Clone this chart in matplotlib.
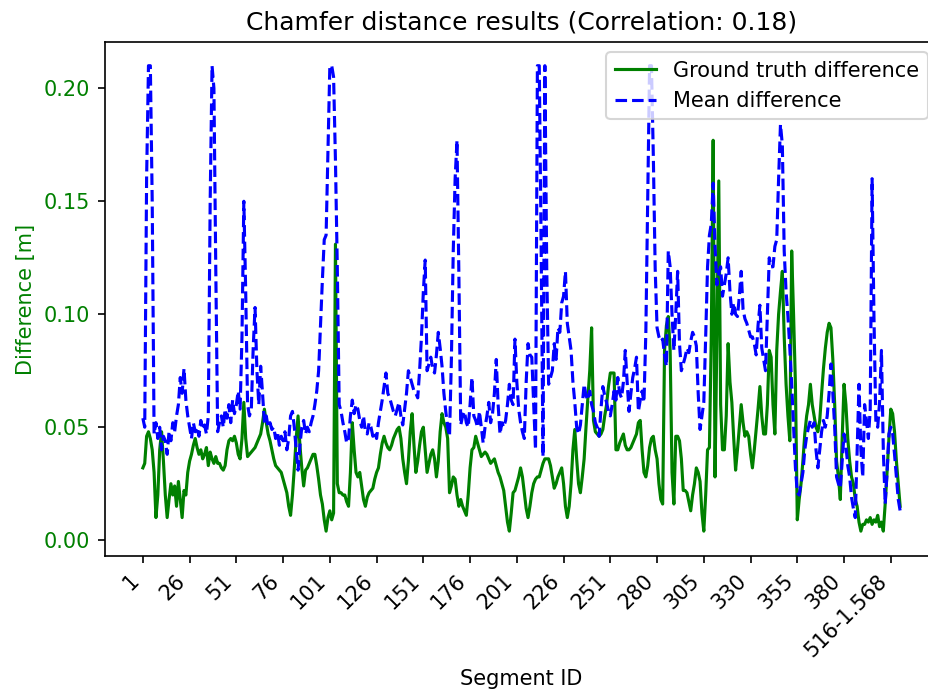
import matplotlib
matplotlib.use("Agg")
import matplotlib.pyplot as plt
import numpy as np

# Ground-truth chamfer difference per segment [m]
gt_diff = [
    0.032, 0.034, 0.046, 0.048, 0.045, 0.040, 0.030, 0.010, 0.020, 0.040,
    0.048, 0.035, 0.020, 0.010, 0.018, 0.025, 0.020, 0.024, 0.015, 0.026,
    0.018, 0.010, 0.022, 0.020, 0.030,
    0.035, 0.038, 0.042, 0.045, 0.041, 0.038, 0.040, 0.036, 0.038, 0.041,
    0.033, 0.039, 0.036, 0.034, 0.037, 0.034, 0.034, 0.032, 0.031, 0.033,
    0.040, 0.044, 0.045, 0.044, 0.046,
    0.043, 0.038, 0.036, 0.045, 0.061, 0.045, 0.037, 0.038, 0.039, 0.040,
    0.041, 0.043, 0.045, 0.047, 0.052, 0.058, 0.052, 0.047, 0.044, 0.040,
    0.036, 0.033, 0.032, 0.031, 0.030,
    0.027, 0.024, 0.021, 0.015, 0.011, 0.020, 0.032, 0.045, 0.055, 0.042,
    0.032, 0.024, 0.031, 0.032, 0.034, 0.036, 0.038, 0.038, 0.033, 0.027,
    0.020, 0.016, 0.009, 0.004, 0.010,
    0.013, 0.009, 0.012, 0.131, 0.025, 0.021, 0.021, 0.020, 0.020, 0.017,
    0.015, 0.030, 0.052, 0.040, 0.030, 0.028, 0.030, 0.024, 0.018, 0.015,
    0.019, 0.021, 0.022, 0.023, 0.027,
    0.030, 0.032, 0.038, 0.043, 0.046, 0.043, 0.041, 0.040, 0.042, 0.045,
    0.047, 0.049, 0.050, 0.045, 0.036, 0.030, 0.025, 0.035, 0.048, 0.056,
    0.042, 0.030, 0.035, 0.042, 0.048,
    0.050, 0.040, 0.030, 0.034, 0.038, 0.040, 0.036, 0.028, 0.035, 0.048,
    0.056, 0.052, 0.050, 0.045, 0.021, 0.024, 0.028, 0.027, 0.020, 0.015,
    0.018, 0.015, 0.013, 0.011, 0.020,
    0.032, 0.040, 0.041, 0.046, 0.043, 0.040, 0.037, 0.038, 0.039, 0.038,
    0.036, 0.034, 0.035, 0.036, 0.033, 0.030, 0.028, 0.025, 0.022, 0.015,
    0.008, 0.004, 0.012, 0.021, 0.022,
    0.025, 0.028, 0.032, 0.028, 0.021, 0.014, 0.010, 0.015, 0.021, 0.025,
    0.027, 0.028, 0.028, 0.031, 0.034, 0.036, 0.036, 0.036, 0.033, 0.028,
    0.023, 0.025, 0.028, 0.030, 0.032,
    0.025, 0.015, 0.010, 0.015, 0.025, 0.040, 0.049, 0.036, 0.025, 0.021,
    0.028, 0.036, 0.050, 0.063, 0.075, 0.094, 0.053, 0.048, 0.047, 0.046,
    0.047, 0.049, 0.055, 0.060, 0.068,
    0.074, 0.074, 0.074, 0.040, 0.040, 0.043, 0.045, 0.047, 0.042, 0.040,
    0.040, 0.041, 0.043, 0.045, 0.047, 0.052, 0.053, 0.040, 0.030, 0.028,
    0.033, 0.041, 0.045, 0.046, 0.040,
    0.036, 0.025, 0.018, 0.016, 0.084, 0.095, 0.099, 0.084, 0.030, 0.016,
    0.046, 0.046, 0.044, 0.036, 0.022, 0.022, 0.021, 0.017, 0.013, 0.020,
    0.025, 0.032, 0.030, 0.026, 0.012,
    0.004, 0.020, 0.040, 0.041, 0.090, 0.177, 0.028, 0.090, 0.159, 0.060,
    0.040, 0.040, 0.055, 0.087, 0.070, 0.061, 0.045, 0.031, 0.040, 0.050,
    0.060, 0.052, 0.046, 0.048, 0.046,
    0.038, 0.032, 0.040, 0.049, 0.058, 0.068, 0.055, 0.047, 0.047, 0.060,
    0.084, 0.081, 0.060, 0.047, 0.084, 0.100, 0.110, 0.119, 0.090, 0.069,
    0.055, 0.044, 0.128, 0.100, 0.069,
    0.009, 0.018, 0.025, 0.035, 0.047, 0.055, 0.060, 0.069, 0.060, 0.055,
    0.050, 0.048, 0.053, 0.065, 0.076, 0.085, 0.092, 0.096, 0.094, 0.080,
    0.060, 0.035, 0.028, 0.018, 0.045,
    0.069, 0.060, 0.045, 0.035, 0.028, 0.025, 0.018, 0.015, 0.008, 0.004,
    0.007, 0.007, 0.009, 0.008, 0.010, 0.007, 0.009, 0.008, 0.011, 0.006,
    0.008, 0.004, 0.016, 0.030, 0.045, 0.058, 0.056, 0.048, 0.035, 0.025,
    0.015,
]

# Mean chamfer difference per segment [m] (capped at 0.21)
mean_diff = [
    0.054, 0.050, 0.160, 0.210, 0.210, 0.150, 0.047, 0.052, 0.045, 0.050,
    0.040, 0.046, 0.044, 0.038, 0.048, 0.044, 0.052, 0.048, 0.055, 0.060,
    0.072, 0.065, 0.076, 0.062, 0.055,
    0.050, 0.045, 0.052, 0.048, 0.050, 0.046, 0.053, 0.049, 0.051, 0.047,
    0.055, 0.150, 0.210, 0.200, 0.120, 0.048, 0.052, 0.055, 0.050, 0.058,
    0.054, 0.060, 0.052, 0.062, 0.056,
    0.060, 0.066, 0.058, 0.090, 0.150, 0.110, 0.060, 0.055, 0.058, 0.085,
    0.103, 0.075, 0.060, 0.077, 0.065, 0.052, 0.055, 0.050, 0.052, 0.049,
    0.050, 0.045, 0.048, 0.042, 0.046,
    0.044, 0.048, 0.040, 0.045, 0.055, 0.057, 0.050, 0.040, 0.031, 0.042,
    0.050, 0.053, 0.047, 0.050, 0.048, 0.052, 0.055, 0.060, 0.066, 0.075,
    0.095, 0.115, 0.133, 0.135, 0.173,
    0.210, 0.210, 0.205, 0.168, 0.120, 0.060, 0.057, 0.052, 0.048, 0.043,
    0.045, 0.055, 0.062, 0.056, 0.060, 0.058, 0.053, 0.050, 0.055, 0.048,
    0.047, 0.052, 0.050, 0.046, 0.048,
    0.045, 0.052, 0.057, 0.062, 0.068, 0.074, 0.065, 0.063, 0.060, 0.057,
    0.055, 0.058, 0.061, 0.055, 0.051, 0.058, 0.065, 0.075, 0.072, 0.069,
    0.066, 0.065, 0.063, 0.075, 0.090,
    0.110, 0.124, 0.075, 0.078, 0.081, 0.076, 0.074, 0.082, 0.092, 0.085,
    0.077, 0.065, 0.057, 0.050, 0.046, 0.080, 0.128, 0.160, 0.177, 0.118,
    0.051, 0.055, 0.057, 0.052, 0.050,
    0.060, 0.072, 0.055, 0.053, 0.050, 0.057, 0.050, 0.043, 0.050, 0.055,
    0.061, 0.052, 0.056, 0.065, 0.080, 0.060, 0.047, 0.052, 0.050, 0.053,
    0.060, 0.069, 0.062, 0.060, 0.089,
    0.070, 0.058, 0.052, 0.048, 0.045, 0.070, 0.087, 0.082, 0.081, 0.060,
    0.040, 0.210, 0.210, 0.130, 0.037, 0.210, 0.120, 0.069, 0.072, 0.075,
    0.087, 0.080, 0.094, 0.092, 0.105,
    0.108, 0.119, 0.096, 0.090, 0.084, 0.070, 0.061, 0.050, 0.047, 0.051,
    0.060, 0.069, 0.064, 0.062, 0.066, 0.060, 0.057, 0.052, 0.050, 0.046,
    0.058, 0.068, 0.064, 0.061, 0.057,
    0.055, 0.060, 0.066, 0.062, 0.072, 0.065, 0.063, 0.070, 0.084, 0.070,
    0.057, 0.065, 0.072, 0.076, 0.081, 0.057, 0.062, 0.066, 0.061, 0.092,
    0.150, 0.210, 0.210, 0.170, 0.120,
    0.094, 0.090, 0.088, 0.089, 0.082, 0.077, 0.128, 0.121, 0.100, 0.084,
    0.100, 0.119, 0.087, 0.075, 0.078, 0.081, 0.085, 0.083, 0.088, 0.092,
    0.090, 0.086, 0.065, 0.049, 0.055,
    0.061, 0.090, 0.121, 0.135, 0.140, 0.158, 0.130, 0.113, 0.118, 0.121,
    0.108, 0.113, 0.118, 0.125, 0.110, 0.100, 0.105, 0.100, 0.099, 0.108,
    0.119, 0.102, 0.098, 0.096, 0.093,
    0.090, 0.090, 0.087, 0.082, 0.095, 0.104, 0.085, 0.080, 0.075, 0.100,
    0.125, 0.121, 0.121, 0.130, 0.133, 0.160, 0.184, 0.175, 0.128, 0.110,
    0.099, 0.085, 0.069, 0.050, 0.032,
    0.021, 0.020, 0.025, 0.030, 0.040, 0.046, 0.050, 0.053, 0.050, 0.052,
    0.040, 0.032, 0.040, 0.048, 0.053, 0.050, 0.055, 0.065, 0.078, 0.065,
    0.050, 0.028, 0.025, 0.023, 0.035,
    0.047, 0.042, 0.033, 0.028, 0.019, 0.014, 0.010, 0.040, 0.069, 0.040,
    0.028, 0.060, 0.053, 0.045, 0.058, 0.160, 0.099, 0.053, 0.050, 0.061,
    0.084, 0.040, 0.016, 0.030, 0.047, 0.050, 0.047, 0.038, 0.028, 0.018,
    0.013,
]

tick_labels = ["1", "26", "51", "76", "101", "126", "151", "176", "201",
               "226", "251", "280", "305", "330", "355", "380", "516-1.568"]
tick_step = 25

x = np.arange(len(gt_diff))

fig = plt.figure(figsize=(928 / 150, 695 / 150), dpi=150)
ax = fig.add_axes([105 / 928, 139 / 695, 833 / 928, 514 / 695])

ax.plot(x, gt_diff, color="green", linestyle="-", label="Ground truth difference")
ax.plot(x, mean_diff, color="blue", linestyle="--", label="Mean difference")

ax.set_xticks(np.arange(len(tick_labels)) * tick_step)
ax.set_xticklabels(tick_labels, rotation=45, ha="right")
ax.set_ylim(-0.007, 0.2205)
ax.tick_params(axis="y", labelcolor="green")
ax.set_ylabel("Difference [m]", color="green")
ax.set_xlabel("Segment ID")
ax.set_title("Chamfer distance results (Correlation: 0.18)")
ax.legend(loc="upper right")

fig.savefig("out.png", dpi=150)
